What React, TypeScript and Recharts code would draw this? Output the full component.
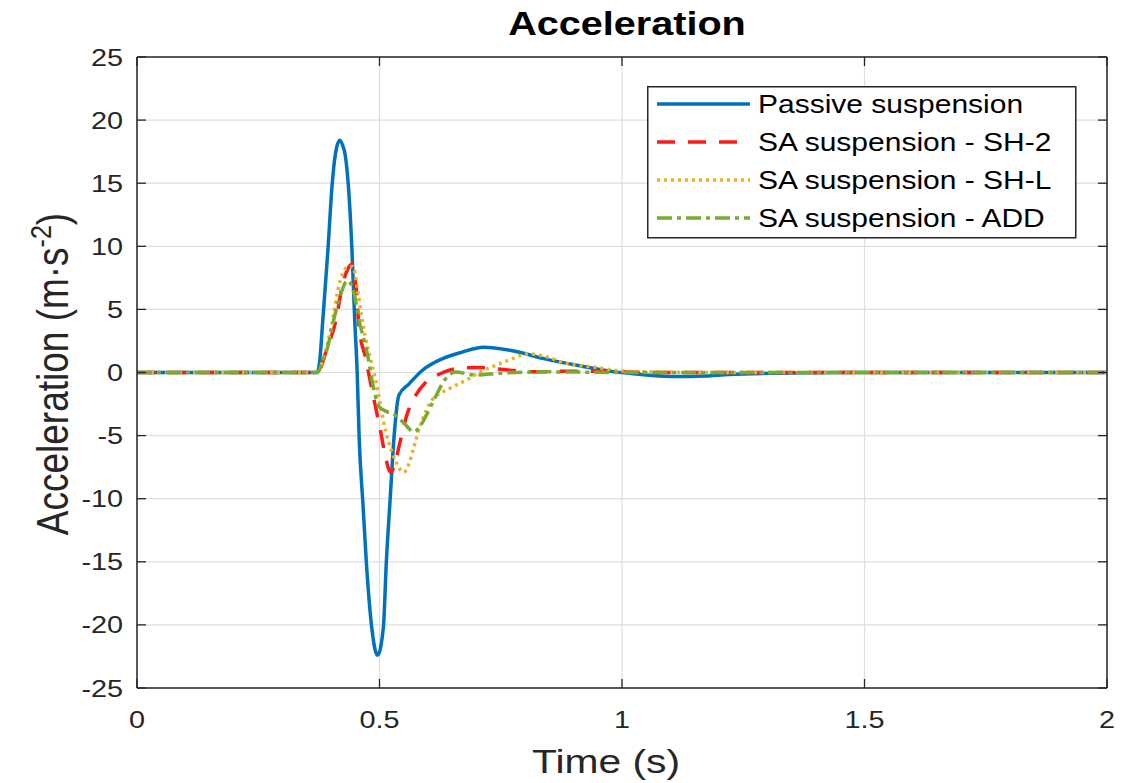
import React from "react";
import { LineChart, Line, XAxis, YAxis, CartesianGrid, Legend, Label } from "recharts";

// time (s) and acceleration (m/s^2), one pair of arrays per response
const passiveT = [0, 0.372, 0.377, 0.383, 0.394, 0.402, 0.409, 0.418, 0.424, 0.429, 0.436, 0.443, 0.449, 0.454, 0.458, 0.466, 0.473, 0.484, 0.496, 0.508, 0.514, 0.522, 0.53, 0.54, 0.561, 0.588, 0.629, 0.669, 0.715, 0.772, 0.841, 0.91, 0.99, 1.05, 1.115, 1.17, 1.22, 1.32, 1.45, 2];
const passiveA = [0, 0, 1.0, 4.1, 9.9, 14.7, 17.3, 18.4, 18.0, 17.3, 14.7, 9.9, 4.1, 0, -5.1, -10.5, -15.1, -20.2, -22.4, -20.2, -15.1, -10, -5.1, -1.8, -0.9, 0.16, 1.08, 1.6, 2.0, 1.74, 1.08, 0.55, 0.03, -0.2, -0.32, -0.28, -0.16, -0.05, 0, 0];

const sh2T = [0, 0.372, 0.38, 0.39, 0.41, 0.424, 0.436, 0.444, 0.451, 0.458, 0.471, 0.48, 0.489, 0.502, 0.513, 0.523, 0.532, 0.54, 0.557, 0.575, 0.595, 0.625, 0.657, 0.7, 0.74, 0.78, 0.82, 0.88, 0.95, 1.05, 2];
const sh2A = [0, 0, 0.5, 1.7, 4.1, 7.0, 8.3, 8.6, 7.0, 3.6, 1.2, -0.5, -2.2, -4.6, -6.8, -7.9, -7.2, -5.9, -3.3, -1.8, -0.8, -0.1, 0.3, 0.4, 0.3, 0.15, 0.05, 0.1, 0.1, 0, 0];

const shlT = [0, 0.372, 0.385, 0.4, 0.417, 0.432, 0.445, 0.455, 0.463, 0.471, 0.482, 0.492, 0.503, 0.513, 0.523, 0.533, 0.55, 0.56, 0.571, 0.585, 0.608, 0.643, 0.684, 0.71, 0.739, 0.773, 0.807, 0.841, 0.889, 0.944, 0.99, 1.05, 1.2, 2];
const shlA = [0, 0, 1.2, 3.5, 7.0, 8.3, 8.4, 6.5, 4.5, 2.8, 1.0, -0.6, -2.8, -4.7, -6.0, -7.0, -7.9, -7.3, -5.9, -4.1, -2.2, -1.3, -0.5, 0.1, 0.55, 1.08, 1.48, 1.27, 0.69, 0.42, 0.16, 0.05, 0, 0];

const addT = [0, 0.372, 0.38, 0.393, 0.407, 0.42, 0.434, 0.448, 0.458, 0.468, 0.476, 0.484, 0.499, 0.515, 0.533, 0.55, 0.571, 0.583, 0.595, 0.615, 0.636, 0.657, 0.697, 0.75, 0.85, 1.0, 2];
const addA = [0, 0, 0.6, 2.0, 4.4, 6.2, 7.3, 6.2, 4.1, 2.6, 1.3, -0.5, -2.7, -3.1, -3.4, -4.0, -4.7, -4.3, -3.5, -1.96, -0.5, 0.03, -0.2, -0.05, 0.05, 0, 0];

const xTicks = [0, 0.5, 1, 1.5, 2];
const yTicks = [-25, -20, -15, -10, -5, 0, 5, 10, 15, 20, 25];

const zip = (t: number[], a: number[]) => t.map((v, i) => ({ t: v, a: a[i] }));

const series = [
  { name: "Passive suspension", data: zip(passiveT, passiveA), color: "#0072BD", dash: undefined },
  { name: "SA suspension - SH-2", data: zip(sh2T, sh2A), color: "#FF1A1A", dash: "18 13" },
  { name: "SA suspension - SH-L", data: zip(shlT, shlA), color: "#EDB120", dash: "3 4" },
  { name: "SA suspension - ADD", data: zip(addT, addA), color: "#77AC30", dash: "15 5 4 5" },
];

const FONT = "'Liberation Sans', Arial, sans-serif";
const INK = "#262626";
const SX = 1.2; // the reference text is a little wide

const BottomTick = ({ x, y, payload }: any) => (
  <g>
    <line x1={x} y1={y} x2={x} y2={y - 9} stroke={INK} strokeWidth={1.3} />
    <text transform={`translate(${x},${y + 40}) scale(${SX},1)`} textAnchor="middle" fontSize={24} fontFamily={FONT} fill={INK}>
      {payload.value}
    </text>
  </g>
);

const TopTick = ({ x, y }: any) => <line x1={x} y1={y} x2={x} y2={y + 9} stroke={INK} strokeWidth={1.3} />;

const LeftTick = ({ x, y, payload }: any) => (
  <g>
    <line x1={x} y1={y} x2={x + 9} y2={y} stroke={INK} strokeWidth={1.3} />
    <text transform={`translate(${x - 14},${y + 8.5}) scale(${SX},1)`} textAnchor="end" fontSize={24} fontFamily={FONT} fill={INK}>
      {payload.value}
    </text>
  </g>
);

const RightTick = ({ x, y }: any) => <line x1={x} y1={y} x2={x - 9} y2={y} stroke={INK} strokeWidth={1.3} />;

const Title = () => (
  <text transform={`translate(627,35) scale(${SX},1)`} textAnchor="middle" fontSize={33} fontWeight="bold" fontFamily={FONT} fill="#000">
    Acceleration
  </text>
);

const XTitle = () => (
  <text transform={`translate(606,773) scale(${SX},1)`} textAnchor="middle" fontSize={34} fontFamily={FONT} fill={INK}>
    Time (s)
  </text>
);

const YTitle = () => (
  <text transform={`translate(68,374) scale(${SX},1) rotate(-90)`} textAnchor="middle" fontSize={37} fontFamily={FONT} fill={INK}>
    Acceleration (m·s<tspan dy={-14} fontSize={25}>-2</tspan><tspan dy={14}>)</tspan>
  </text>
);

const LegendBox = () => (
  <svg width={430} height={154}>
    <rect x={0.75} y={0.75} width={428} height={151} fill="#fff" stroke={INK} strokeWidth={1.5} />
    {series.map((s, i) => {
      const cy = 18 + i * 38;
      return (
        <g key={s.name}>
          <line x1={10} y1={cy} x2={103} y2={cy} stroke={s.color} strokeWidth={3.5} strokeDasharray={s.dash} />
          <text transform={`translate(111,${cy + 9}) scale(${SX},1)`} fontSize={25} fontFamily={FONT} fill="#000">
            {s.name}
          </text>
        </g>
      );
    })}
  </svg>
);

export default function App() {
  return (
    <div style={{ position: "absolute", left: 0, top: 0, background: "#fff" }}>
      <LineChart width={1141} height={783} margin={{ top: 0, right: 0, bottom: 0, left: 0 }}>
        <CartesianGrid stroke="#dedede" strokeWidth={1.2} />
        <XAxis
          dataKey="t"
          type="number"
          domain={[0, 2]}
          ticks={xTicks}
          interval={0}
          allowDataOverflow
          height={95}
          tickSize={0}
          tickMargin={0}
          tickLine={false}
          axisLine={{ stroke: INK, strokeWidth: 1.5 }}
          tick={<BottomTick />}
        >
          <Label content={<XTitle />} />
        </XAxis>
        <XAxis
          xAxisId="top"
          orientation="top"
          dataKey="t"
          type="number"
          domain={[0, 2]}
          ticks={xTicks}
          interval={0}
          allowDataOverflow
          height={57}
          tickSize={0}
          tickMargin={0}
          tickLine={false}
          axisLine={{ stroke: INK, strokeWidth: 1.5 }}
          tick={<TopTick />}
        >
          <Label content={<Title />} />
        </XAxis>
        <YAxis
          type="number"
          domain={[-25, 25]}
          ticks={yTicks}
          interval={0}
          allowDataOverflow
          width={137}
          tickSize={0}
          tickMargin={0}
          tickLine={false}
          axisLine={{ stroke: INK, strokeWidth: 1.5 }}
          tick={<LeftTick />}
        >
          <Label content={<YTitle />} />
        </YAxis>
        <YAxis
          yAxisId="right"
          orientation="right"
          type="number"
          domain={[-25, 25]}
          ticks={yTicks}
          interval={0}
          allowDataOverflow
          width={34}
          tickSize={0}
          tickMargin={0}
          tickLine={false}
          axisLine={{ stroke: INK, strokeWidth: 1.5 }}
          tick={<RightTick />}
        />
        {series.map((s) => (
          <Line
            key={s.name}
            data={s.data}
            dataKey="a"
            name={s.name}
            type="monotone"
            stroke={s.color}
            strokeWidth={3.5}
            strokeDasharray={s.dash}
            dot={false}
            activeDot={false}
            isAnimationActive={false}
          />
        ))}
        <Legend
          layout="vertical"
          align="center"
          verticalAlign="middle"
          content={<LegendBox />}
          wrapperStyle={{ position: "absolute", left: 647, top: 86, width: 430, height: 154 }}
        />
      </LineChart>
    </div>
  );
}
